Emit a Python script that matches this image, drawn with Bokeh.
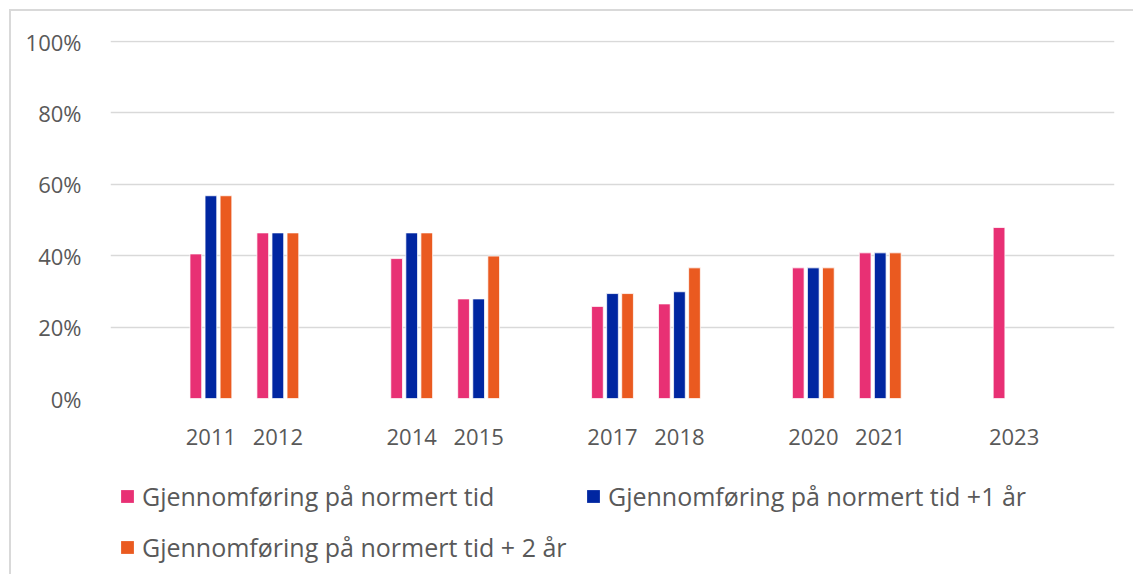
from bokeh.plotting import figure
from bokeh.layouts import column
from bokeh.models import (FixedTicker, PrintfTickFormatter, Legend, LegendItem,
                          Range1d, ColumnDataSource)
from bokeh.transform import dodge
from bokeh.embed import file_html
from bokeh.resources import INLINE

# ---- data ----
years = [2011, 2012, 2014, 2015, 2017, 2018, 2020, 2021, 2023]
normert = [40.5, 46.4, 39.2, 27.9, 25.8, 26.5, 36.6, 40.8, 47.9]
pluss1 = [56.8, 46.4, 46.4, 27.9, 29.4, 29.9, 36.6, 40.8, float("nan")]
pluss2 = [56.8, 46.4, 46.4, 39.9, 29.4, 36.6, 36.6, 40.8, float("nan")]
labels = ["Gjennomføring på normert tid",
          "Gjennomføring på normert tid +1 år",
          "Gjennomføring på normert tid + 2 år"]
colors = ["#E83074", "#0026A1", "#EA5A20"]
y_ticks = [0, 20, 40, 60, 80, 100]

FONT = "Open Sans"
TXT = "#595959"

src = ColumnDataSource(dict(x=years, a=normert, b=pluss1, c=pluss2))

# ---- main chart ----
p = figure(width=1122, height=447, output_backend="svg", toolbar_location=None,
           x_range=Range1d(2009.5, 2024.5), y_range=Range1d(0, 100.3),
           min_border_left=99, min_border_top=29, min_border_right=19,
           min_border_bottom=60)
p.outline_line_color = None
p.background_fill_color = "white"
p.border_fill_color = "white"

for key, off, col in zip(["a", "b", "c"], [-0.225, 0.0, 0.225], colors):
    p.vbar(x=dodge("x", off), top=key, bottom=0, width=0.175, source=src,
           fill_color=col, line_color="white", line_width=0.75)

p.xaxis.ticker = FixedTicker(ticks=years)
p.xaxis.major_label_overrides = {y: str(y) for y in years}
p.yaxis.ticker = FixedTicker(ticks=y_ticks)
p.yaxis.formatter = PrintfTickFormatter(format="%d%%")
for ax in (p.xaxis[0], p.yaxis[0]):
    ax.axis_line_color = None
    ax.major_tick_line_color = None
    ax.minor_tick_line_color = None
    ax.major_label_text_font = FONT
    ax.major_label_text_font_size = "22px"
    ax.major_label_text_color = TXT
p.xaxis.major_label_standoff = 24
p.yaxis.major_label_standoff = 23

p.xgrid.grid_line_color = None
p.ygrid.grid_line_color = "#D9D9D9"
p.ygrid.grid_line_width = 1.5

# ---- legend strip (proxy renderers of zero height, not visible) ----
pl = figure(width=1122, height=116, output_backend="svg", toolbar_location=None,
            x_range=Range1d(0, 1), y_range=Range1d(0, 1),
            min_border_left=0, min_border_top=0, min_border_right=0,
            min_border_bottom=0)
pl.axis.visible = False
pl.grid.visible = False
pl.outline_line_color = None
pl.border_fill_color = "white"

lr = []
for col in colors:
    lr.append(pl.vbar(x=[0], top=[0], bottom=[0], width=0.0,
                      fill_color=col, line_color=None))

common = dict(orientation="horizontal",
              glyph_width=16, glyph_height=16, label_standoff=7,
              label_width=433, label_height=34, spacing=10, padding=0, margin=0,
              label_text_font=FONT, label_text_font_size="25px",
              label_text_color=TXT, border_line_color=None,
              background_fill_alpha=0)
leg1 = Legend(items=[LegendItem(label=labels[0], renderers=[lr[0]]),
                     LegendItem(label=labels[1], renderers=[lr[1]])],
              location=(9, 61), **common)
leg2 = Legend(items=[LegendItem(label=labels[2], renderers=[lr[2]])],
              location=(9, 10), **common)
pl.add_layout(leg1)
pl.add_layout(leg2)

layout = column(p, pl, spacing=0,
                styles={"border-top": "2px solid #D9D9D9",
                        "border-left": "2px solid #D9D9D9",
                        "margin-left": "9px", "margin-top": "9px"})

open("out.html", "w").write(file_html(layout, INLINE))
